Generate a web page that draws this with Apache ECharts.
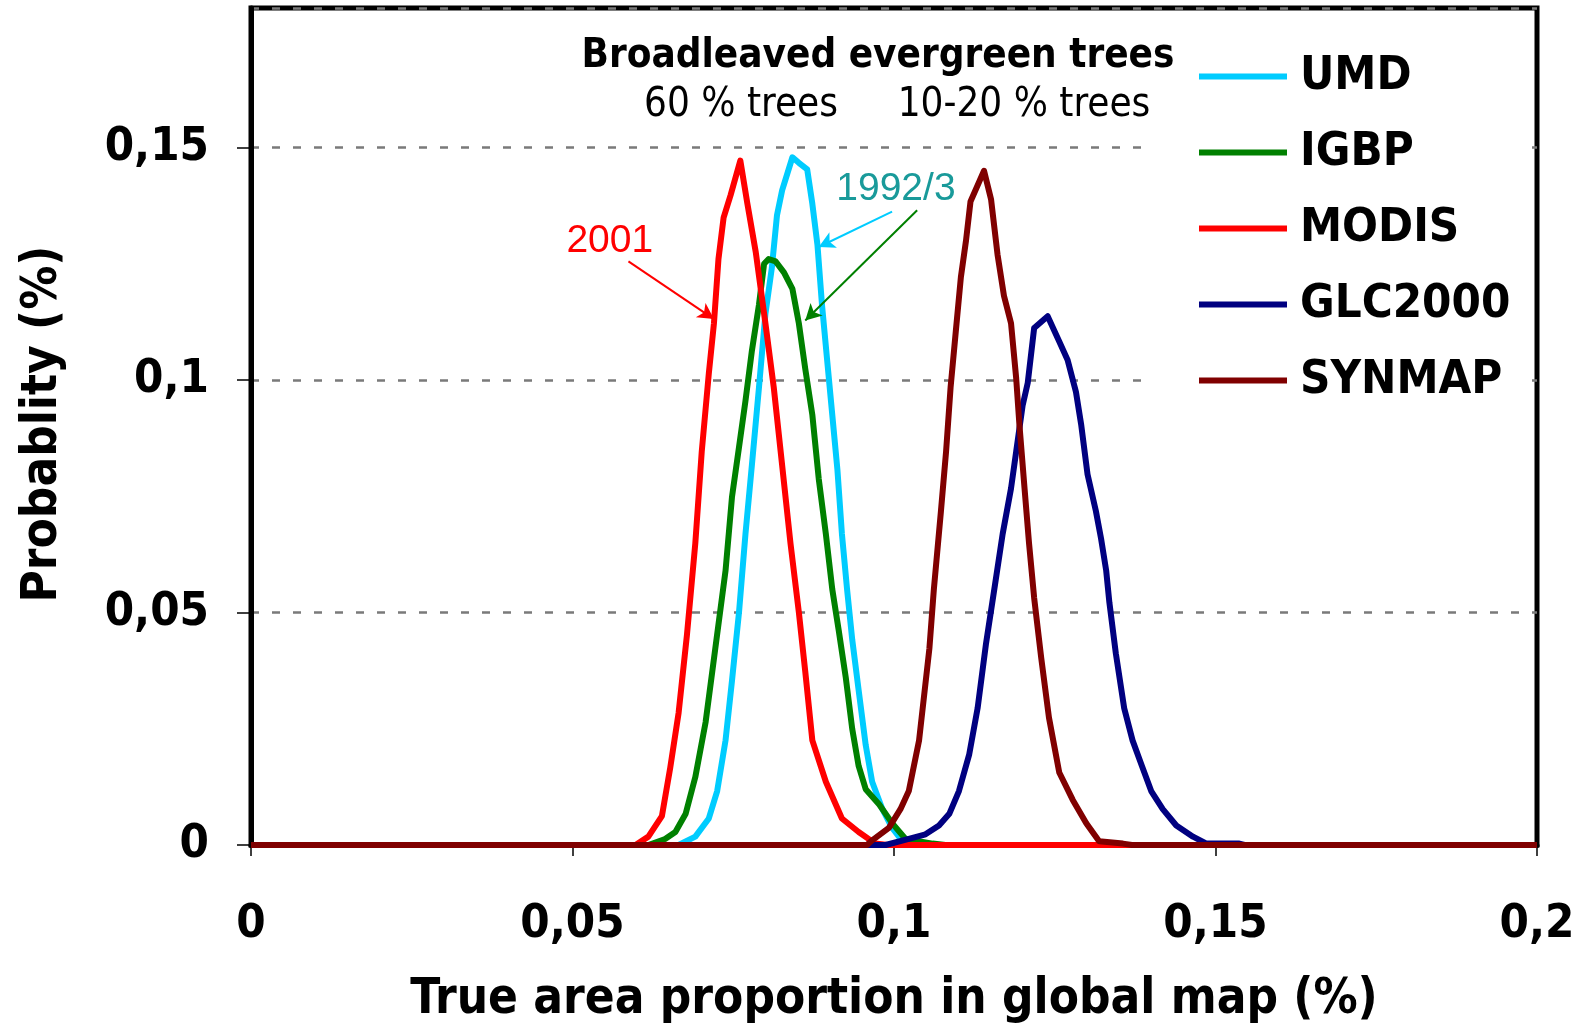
<!DOCTYPE html>
<html>
<head>
<meta charset="utf-8">
<script src="https://cdn.jsdelivr.net/npm/echarts@6/dist/echarts.min.js"></script>
<style>
html,body{margin:0;padding:0;background:#fff;}
#chart{width:1587px;height:1029px;}
</style>
</head>
<body>
<div id="chart"></div>
<script>
// ---- Data (x = true area proportion, y = probability) ----
const seriesNames = ['UMD', 'IGBP', 'MODIS', 'GLC2000', 'SYNMAP'];
const seriesColors = ['#00ccff', '#008000', '#ff0000', '#000080', '#800000'];

const umd = [[0,0],[0.0665,0],[0.0691,0.0018],[0.0712,0.0057],[0.0725,0.0116],[0.0738,0.0225],[0.0748,0.0353],[0.0759,0.0501],[0.0769,0.0669],[0.0779,0.0817],[0.0790,0.0984],[0.0800,0.1142],[0.0810,0.1241],[0.0818,0.1354],[0.0826,0.1408],[0.0842,0.1479],[0.0852,0.1467],[0.0865,0.1453],[0.0873,0.1379],[0.0881,0.1290],[0.0888,0.1162],[0.0896,0.1043],[0.0904,0.0925],[0.0912,0.0807],[0.0919,0.0669],[0.0927,0.0550],[0.0935,0.0442],[0.0945,0.0333],[0.0956,0.0215],[0.0966,0.0136],[0.0982,0.0077],[0.0997,0.0037],[0.1013,0.0008],[0.1030,0],[0.2,0]];

const igbp = [[0,0],[0.0618,0],[0.0644,0.0013],[0.0660,0.0028],[0.0676,0.0067],[0.0691,0.0146],[0.0707,0.0264],[0.0722,0.0422],[0.0738,0.0590],[0.0748,0.0748],[0.0759,0.0856],[0.0769,0.0955],[0.0779,0.1063],[0.0790,0.1162],[0.0798,0.1250],[0.0805,0.1260],[0.0816,0.1255],[0.0829,0.1231],[0.0842,0.1196],[0.0852,0.1122],[0.0862,0.1024],[0.0873,0.0925],[0.0883,0.0787],[0.0894,0.0669],[0.0904,0.0550],[0.0914,0.0462],[0.0925,0.0360],[0.0935,0.0250],[0.0945,0.0170],[0.0956,0.0120],[0.0977,0.0087],[0.0997,0.0047],[0.1018,0.0013],[0.1060,0.0003],[0.1080,0],[0.2,0]];

const modis = [[0,0],[0.0598,0],[0.0618,0.0018],[0.0639,0.0062],[0.0652,0.0166],[0.0665,0.0284],[0.0678,0.0452],[0.0691,0.0649],[0.0701,0.0846],[0.0712,0.1014],[0.0720,0.1122],[0.0727,0.1260],[0.0735,0.1349],[0.0746,0.1398],[0.0761,0.1472],[0.0772,0.1379],[0.0785,0.1275],[0.0800,0.1122],[0.0813,0.0984],[0.0826,0.0817],[0.0839,0.0649],[0.0852,0.0501],[0.0862,0.0373],[0.0873,0.0225],[0.0894,0.0136],[0.0919,0.0057],[0.0945,0.0028],[0.0971,0.0003],[0.0990,0],[0.2,0]];

const glc2000 = [[0,0],[0.0987,0],[0.1023,0.0013],[0.1049,0.0023],[0.1070,0.0042],[0.1086,0.0067],[0.1101,0.0116],[0.1117,0.0195],[0.1130,0.0294],[0.1143,0.0432],[0.1156,0.0550],[0.1169,0.0669],[0.1182,0.0767],[0.1190,0.0846],[0.1200,0.0945],[0.1208,0.0994],[0.1218,0.1112],[0.1239,0.1137],[0.1257,0.1083],[0.1270,0.1043],[0.1283,0.0974],[0.1291,0.0905],[0.1301,0.0797],[0.1314,0.0718],[0.1322,0.0659],[0.1330,0.0590],[0.1335,0.0521],[0.1345,0.0412],[0.1358,0.0294],[0.1371,0.0225],[0.1384,0.0176],[0.1400,0.0116],[0.1418,0.0077],[0.1439,0.0042],[0.1465,0.0018],[0.1486,0.0003],[0.1537,0.0003],[0.1545,0],[0.2,0]];

const synmap = [[0,0],[0.0958,0],[0.0966,0.0010],[0.0992,0.0037],[0.1010,0.0077],[0.1023,0.0116],[0.1039,0.0225],[0.1055,0.0422],[0.1062,0.0550],[0.1073,0.0718],[0.1081,0.0846],[0.1088,0.0984],[0.1096,0.1103],[0.1104,0.1221],[0.1112,0.1300],[0.1119,0.1384],[0.1140,0.1450],[0.1151,0.1388],[0.1161,0.1270],[0.1171,0.1181],[0.1182,0.1122],[0.1190,0.1004],[0.1195,0.0905],[0.1203,0.0767],[0.1210,0.0649],[0.1218,0.0531],[0.1229,0.0402],[0.1241,0.0274],[0.1257,0.0156],[0.1278,0.0097],[0.1299,0.0047],[0.1319,0.0008],[0.1356,0.0003],[0.1370,0],[0.2,0]];

const seriesData = [umd, igbp, modis, glc2000, synmap];

// Axis ticks
const xTicks = [0, 0.05, 0.1, 0.15, 0.2];
const yTicks = [0, 0.05, 0.1, 0.15];

// Annotations (data coordinates)
const label2001 = { text: '2001', at: [0.0558, 0.1298] };
const label1992 = { text: '1992/3', at: [0.1003, 0.1410] };
const arrowMODIS = [[0.0587, 0.1255], [0.0720, 0.1131]];
const arrowUMD = [[0.0997, 0.1362], [0.0883, 0.1286]];
const arrowIGBP = [[0.1036, 0.1365], [0.0862, 0.1128]];

const titleText = 'Broadleaved evergreen trees';
const subLeft = '60 % trees';
const subRight = '10-20 % trees';
const xTitle = 'True area proportion in global map (%)';
const yTitle = 'Probablity (%)';

// ---- Chart ----
const COND = "'DejaVu Sans Condensed', 'DejaVu Sans', sans-serif";
const fmt = v => {
  const r = Math.round(v * 1000) / 1000;
  return String(r).replace('.', ',');
};

function arrowMark(pts, color) {
  return {
    silent: true,
    symbol: ['none', 'arrow'],
    symbolSize: [13, 16],
    label: { show: false },
    lineStyle: { color: color, width: 2, type: 'solid' },
    data: [[{ coord: pts[0] }, { coord: pts[1] }]]
  };
}
function textMark(lbl, color) {
  return {
    silent: true,
    symbol: 'circle',
    symbolSize: 1,
    itemStyle: { color: 'rgba(0,0,0,0)' },
    label: {
      show: true, position: 'inside', formatter: lbl.text,
      color: color, fontSize: 39, fontFamily: "'Liberation Sans', Arial, sans-serif"
    },
    data: [{ coord: lbl.at }]
  };
}

const series = seriesNames.map((name, i) => {
  const s = {
    name: name,
    type: 'line',
    data: seriesData[i],
    symbol: 'none',
    showSymbol: false,
    animation: false,
    lineStyle: { color: seriesColors[i], width: 6, join: 'round' },
    itemStyle: { color: seriesColors[i] },
    z: 3 + i
  };
  if (name === 'MODIS') {
    s.markLine = arrowMark(arrowMODIS, '#ff0000');
    s.markPoint = textMark(label2001, '#ff0000');
  }
  if (name === 'UMD') {
    s.markLine = arrowMark(arrowUMD, '#00ccff');
    s.markPoint = textMark(label1992, '#199a9a');
  }
  if (name === 'IGBP') {
    s.markLine = arrowMark(arrowIGBP, '#008000');
  }
  return s;
});

const chart = echarts.init(document.getElementById('chart'), null, { renderer: 'canvas' });
chart.setOption({
  animation: false,
  backgroundColor: '#fff',
  grid: {
    left: 251, right: 50, top: 8, bottom: 184,
    show: true, borderColor: '#000', borderWidth: 5, backgroundColor: 'transparent'
  },
  legend: {
    orient: 'vertical',
    left: 1144, top: 24,
    padding: [29, 20, 12, 55],
    backgroundColor: '#fff',
    icon: 'rect',
    itemWidth: 88, itemHeight: 6,
    itemGap: 29,
    data: seriesNames,
    selectedMode: false,
    textStyle: {
      fontFamily: COND, fontWeight: 'bold', fontSize: 47, color: '#000',
      lineHeight: 44, padding: [0, 0, 0, 8]
    }
  },
  xAxis: {
    type: 'value',
    min: 0, max: 0.2, interval: 0.05,
    axisLine: { show: true, onZero: false, lineStyle: { color: '#000', width: 5 } },
    axisTick: { show: true, length: 11, lineStyle: { color: '#000', width: 1.5 } },
    splitLine: { show: false },
    axisLabel: {
      margin: 56,
      formatter: v => fmt(v),
      fontFamily: COND, fontWeight: 'bold', fontSize: 47, color: '#000'
    }
  },
  yAxis: {
    type: 'value',
    min: 0, max: 0.18, interval: 0.05,
    axisLine: { show: true, lineStyle: { color: '#000', width: 5 } },
    axisTick: { show: true, length: 14, lineStyle: { color: '#000', width: 1.5 } },
    splitLine: { show: true, lineStyle: { color: '#7a7a7a', width: 2.5, type: [8, 13] } },
    axisLabel: {
      margin: 42,
      showMaxLabel: false,
      formatter: v => (yTicks.some(t => Math.abs(t - v) < 1e-9) ? fmt(v) : ''),
      fontFamily: COND, fontWeight: 'bold', fontSize: 47, color: '#000'
    }
  },
  graphic: [
    { type: 'text', z: 100, x: 878, y: 57,
      style: { text: titleText, fill: '#000', font: "bold 40px 'DejaVu Sans Condensed', 'DejaVu Sans'", textAlign: 'center', textVerticalAlign: 'middle' } },
    { type: 'text', z: 100, x: 741, y: 106,
      style: { text: subLeft, fill: '#000', font: "40px 'DejaVu Sans Condensed', 'DejaVu Sans'", textAlign: 'center', textVerticalAlign: 'middle' } },
    { type: 'text', z: 100, x: 1024, y: 106,
      style: { text: subRight, fill: '#000', font: "40px 'DejaVu Sans Condensed', 'DejaVu Sans'", textAlign: 'center', textVerticalAlign: 'middle' } },
    { type: 'text', z: 100, x: 894, y: 1000,
      style: { text: xTitle, fill: '#000', font: "bold 49px 'DejaVu Sans Condensed', 'DejaVu Sans'", textAlign: 'center', textVerticalAlign: 'middle' } },
    { type: 'text', z: 100, x: 43, y: 424, rotation: Math.PI / 2,
      style: { text: yTitle, fill: '#000', font: "bold 49px 'DejaVu Sans Condensed', 'DejaVu Sans'", textAlign: 'center', textVerticalAlign: 'middle' } }
  ],
  series: series
});
</script>
</body>
</html>
